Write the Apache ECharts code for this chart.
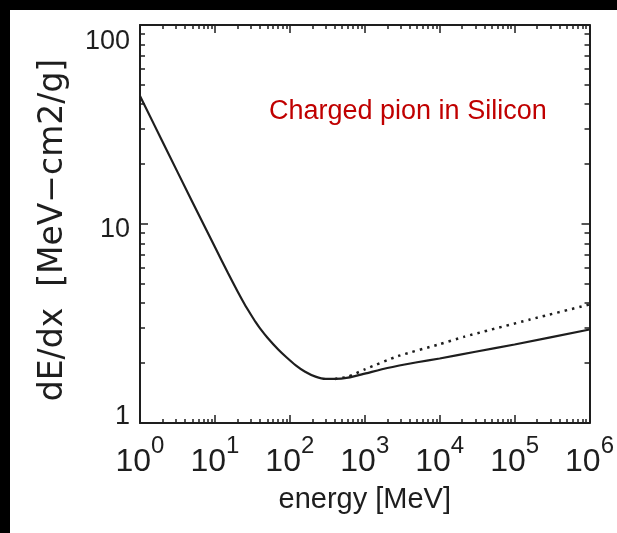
<!DOCTYPE html>
<html>
<head>
<meta charset="utf-8">
<script src="https://cdn.jsdelivr.net/npm/echarts@6/dist/echarts.min.js"></script>
<style>
html, body { margin: 0; padding: 0; background: #fff; }
#main { width: 617px; height: 533px; }
</style>
</head>
<body>
<div id="main"></div>
<script>
// energy in MeV, stopping power in MeV cm2/g
var energySolid = [1, 2, 5, 10, 15, 20, 25, 30, 35, 40, 50, 70, 90, 120, 160, 220, 300, 400, 600, 1000, 2000, 5000, 10000, 30000, 100000, 1000000];
var dedxSolid = [44.0, 25.9, 12.9, 7.66, 5.65, 4.59, 3.94, 3.52, 3.21, 2.99, 2.69, 2.34, 2.14, 1.95, 1.81, 1.71, 1.665, 1.665, 1.69, 1.77, 1.89, 2.02, 2.11, 2.28, 2.48, 2.95];

var energyDotted = [400, 600, 1000, 2800, 10000, 21000, 160000, 1000000];
var dedxDotted = [1.665, 1.71, 1.86, 2.17, 2.49, 2.71, 3.31, 3.94];

var xTickValues = [1, 10, 100, 1000, 10000, 100000, 1000000];
var xTickExponents = ['0', '1', '2', '3', '4', '5', '6'];
var yTickValues = [1, 10, 100];
var yTickLabels = ['1', '10', '100'];

var annotation = 'Charged pion in Silicon';

function minorTicks(decades) {
    var out = [];
    for (var i = 0; i < decades.length - 1; i++) {
        for (var m = 2; m <= 9; m++) out.push(m * decades[i]);
    }
    return out;
}
var xMinor = minorTicks(xTickValues);
var yMinor = minorTicks(yTickValues);

var ink = '#1e1e1e';
var font = 'Liberation Sans';

function pairs(xs, ys) {
    return xs.map(function (x, i) { return [x, ys[i]]; });
}

var myChart = echarts.init(document.getElementById('main'));

function xAxisDef(pos, ticks, len, main) {
    return {
        type: 'log', logBase: 10, min: 1, max: 1000000, position: pos,
        axisLine: { show: main, onZero: false, lineStyle: { color: ink, width: 2 } },
        axisTick: { show: true, inside: true, length: len, customValues: ticks, lineStyle: { color: ink, width: 1.5 } },
        splitLine: { show: false },
        axisLabel: { show: false }
    };
}
function yAxisDef(pos, ticks, len, main) {
    return {
        type: 'log', logBase: 10, min: 1, max: 100, position: pos,
        axisLine: { show: main, onZero: false, lineStyle: { color: ink, width: 2 } },
        axisTick: { show: true, inside: true, length: len, customValues: ticks, lineStyle: { color: ink, width: 1.5 } },
        splitLine: { show: false },
        axisLabel: { show: false }
    };
}

var xBottom = xAxisDef('bottom', xTickValues, 8, true);
xBottom.axisLabel = {
    show: true,
    customValues: xTickValues,
    margin: 11,
    formatter: function (v) {
        var i = xTickValues.indexOf(Math.round(v));
        return '{b|10}{s|' + xTickExponents[i] + '}';
    },
    rich: {
        b: { fontSize: 32, fontFamily: font, color: ink, verticalAlign: 'bottom', lineHeight: 44 },
        s: { fontSize: 24, fontFamily: font, color: ink, verticalAlign: 'top', lineHeight: 24 }
    }
};
xBottom.name = 'energy [MeV]';
xBottom.nameLocation = 'middle';
xBottom.nameGap = 62;
xBottom.nameTextStyle = { fontSize: 29, fontFamily: font, color: ink };

var yLeft = yAxisDef('left', yTickValues, 8, true);
yLeft.axisLabel = {
    show: true,
    customValues: yTickValues,
    margin: 10,
    formatter: function (v) {
        var i = yTickValues.indexOf(Math.round(v));
        var key = i === 2 ? 't' : (i === 0 ? 'd' : 'm');
        return '{' + key + '|' + yTickLabels[i] + '}';
    },
    rich: {
        t: { fontSize: 27, fontFamily: font, color: ink, padding: [34, 0, 0, 0] },
        m: { fontSize: 27, fontFamily: font, color: ink, padding: [12, 0, 0, 0] },
        d: { fontSize: 27, fontFamily: font, color: ink, padding: [0, 0, 12, 0] }
    }
};
yLeft.name = 'dE/dx  [MeV\u2212cm2/g]';
yLeft.nameLocation = 'middle';
yLeft.nameRotate = 90;
yLeft.nameGap = 70;
yLeft.nameTextStyle = { fontSize: 33, fontFamily: 'DejaVu Sans', color: ink, padding: [0, 12, 0, 0] };

var option = {
    backgroundColor: '#fff',
    animation: false,
    grid: { left: 140, top: 25, width: 453, height: 398, containLabel: false },
    xAxis: [
        xBottom,
        xAxisDef('top', xTickValues, 8, true),
        xAxisDef('bottom', xMinor, 4, false),
        xAxisDef('top', xMinor, 4, false)
    ],
    yAxis: [
        yLeft,
        yAxisDef('right', yTickValues, 8, true),
        yAxisDef('left', yMinor, 5, false),
        yAxisDef('right', yMinor, 5, false)
    ],
    series: [
        {
            name: 'total',
            type: 'line',
            xAxisIndex: 0, yAxisIndex: 0,
            data: pairs(energySolid, dedxSolid),
            showSymbol: false,
            smooth: 0.2,
            lineStyle: { color: ink, width: 2.2 }
        },
        {
            name: 'dotted',
            type: 'line',
            xAxisIndex: 0, yAxisIndex: 0,
            data: pairs(energyDotted, dedxDotted),
            showSymbol: false,
            smooth: 0.2,
            lineStyle: { color: ink, width: 2.5, type: [2.5, 5] }
        }
    ],
    graphic: [
        { type: 'rect', left: 0, top: 0, shape: { width: 10, height: 533 }, style: { fill: '#000' }, z: 100 },
        { type: 'rect', left: 0, top: 0, shape: { width: 617, height: 10 }, style: { fill: '#000' }, z: 100 },
        { type: 'text', x: 269, y: 112, style: { text: annotation, fill: '#c00000', font: '27px "Liberation Sans"', textVerticalAlign: 'middle' } }
    ]
};

myChart.setOption(option);
</script>
</body>
</html>
